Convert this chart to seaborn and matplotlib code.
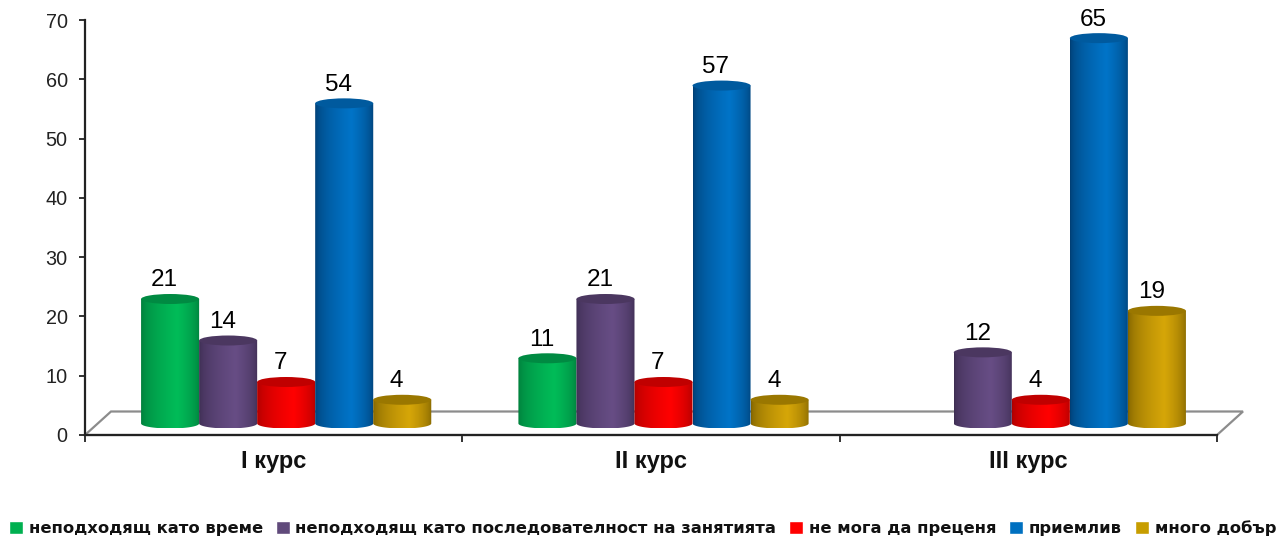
import numpy as np
import pandas as pd
import seaborn as sns
import matplotlib
matplotlib.use("Agg")
import matplotlib.pyplot as plt
from matplotlib.path import Path
from matplotlib.patches import Ellipse, Polygon
from matplotlib.transforms import offset_copy
from matplotlib.colors import to_rgb

courses = ["I курс", "II курс", "III курс"]
series = ["неподходящ като време", "неподходящ като последователност на занятията",
          "не мога да преценя", "приемлив", "много добър"]
v_time = [21, 11, np.nan]
v_order = [14, 21, 12]
v_unsure = [7, 7, 4]
v_ok = [54, 57, 65]
v_good = [4, 4, 19]
yticks = [0, 10, 20, 30, 40, 50, 60, 70]

palette = ["#00B050", "#604A7B", "#FF0000", "#0070C0", "#C79D00"]
peak = ["#00BC58", "#674D85", "#FF0000", "#0074C8", "#D6A608"]
edge = ["#007A3A", "#3C2C50", "#A80000", "#003C70", "#7C6000"]
top = ["#008A42", "#4B3760", "#C00000", "#005A9E", "#9A7700"]

values = [v_time, v_order, v_unsure, v_ok, v_good]
df = pd.DataFrame({"course": np.tile(courses, len(series)),
                   "series": np.repeat(series, len(courses)),
                   "value": np.concatenate(values)})

sns.set_theme(style="white")
plt.rcParams["font.family"] = ["Liberation Sans", "DejaVu Sans"]

W, H = 1284, 537
fig = plt.figure(figsize=(W / 100, H / 100), dpi=100, facecolor="white")
L, R, T, B = 85, 1217, 20, 435
ax = fig.add_axes([L / W, (H - B) / H, (R - L) / W, (B - T) / H])

sns.barplot(data=df, x="course", y="value", hue="series", order=courses, hue_order=series,
            palette=palette, width=0.769, gap=0, saturation=1, ax=ax, zorder=3)
handles, labels = ax.get_legend_handles_labels()
if ax.get_legend():
    ax.get_legend().remove()

ax.set_xlim(-0.5, 2.5)
ax.set_ylim(0, 70)
px_x = 3 / (R - L)
px_y = 70 / (B - T)

shift = offset_copy(ax.transData, fig=fig, x=12.5, y=11.5, units="dots")
rx_h = 5 * px_y
floor_dx, floor_dy = 26 * px_x, 23.5 * px_y
ax.add_patch(Polygon([(-0.5, 0), (2.5, 0), (2.5 + floor_dx, floor_dy), (-0.5 + floor_dx, floor_dy)],
                     closed=True, fc="white", ec="#8c8c8c", lw=1.6, clip_on=False, zorder=1))

for i, cont in enumerate(ax.containers):
    c_e, c_p = np.array(to_rgb(edge[i])), np.array(to_rgb(peak[i]))
    u = np.linspace(0, 1, 120)
    prof = np.clip(np.where(u < 0.62, u / 0.62, (1 - u) / 0.38), 0, 1) ** 0.5
    img = (c_e[None, :] * (1 - prof[:, None]) + c_p[None, :] * prof[:, None])[None, :, :]
    for bar in cont:
        x, w, h = bar.get_x(), bar.get_width(), bar.get_height()
        if not np.isfinite(h):
            continue
        bar.set_visible(False)
        cx = x + w / 2
        t = np.linspace(np.pi, 2 * np.pi, 50)
        low = np.c_[cx + w / 2 * np.cos(t), rx_h * np.sin(t)]
        verts = np.vstack([low, [(x + w, h), (x, h), low[0]]])
        clip = Path(verts)
        im = ax.imshow(img, extent=(x, x + w, -rx_h, h), aspect="auto", transform=shift,
                       interpolation="bilinear", zorder=3 + 0.1 * i)
        im.set_clip_path(clip, transform=shift)
        ax.add_patch(Ellipse((cx, h), w, 2 * rx_h, fc=top[i], ec="none",
                             transform=shift, zorder=3 + 0.1 * i + 0.01, clip_on=False))
        ax.annotate(f"{int(h)}", xy=(cx, h), xycoords=shift, xytext=(-4, 5.5), textcoords="offset points",
                    ha="center", va="bottom", fontsize=17.5, color="black", zorder=10)

ax.set_xlim(-0.5, 2.5)
ax.set_ylim(0, 70)
sns.despine(ax=ax)
for s in ("left", "bottom"):
    ax.spines[s].set_linewidth(1.6)
    ax.spines[s].set_color("#222222")
    ax.spines[s].set_zorder(2)

ax.set_yticks(yticks)
ax.tick_params(axis="y", left=True, length=4.5, width=1.3, color="#222222", labelsize=14.3,
               labelcolor="#222222", pad=8)
ax.set_xticks(range(3))
ax.set_xticklabels(courses, fontsize=17, fontweight="bold", color="#111111")
ax.set_xticks([-0.5, 0.5, 1.5, 2.5], minor=True)
ax.tick_params(axis="x", which="major", length=0, pad=11)
ax.tick_params(axis="x", which="minor", bottom=True, length=5, width=1.3, color="#222222")
ax.set_xlabel("")
ax.set_ylabel("")
ax.grid(False)

leg = fig.legend(handles, labels, loc="lower left", bbox_to_anchor=(9 / W, 1 / H), ncol=5,
                 frameon=False, handlelength=0.85, handleheight=0.85, handletextpad=0.35,
                 columnspacing=0.8, borderpad=0, borderaxespad=0,
                 prop={"family": "DejaVu Sans", "weight": "bold", "size": 11.75})
for t in leg.get_texts():
    t.set_color("#111111")

fig.savefig("out.png", dpi=100, facecolor="white")
